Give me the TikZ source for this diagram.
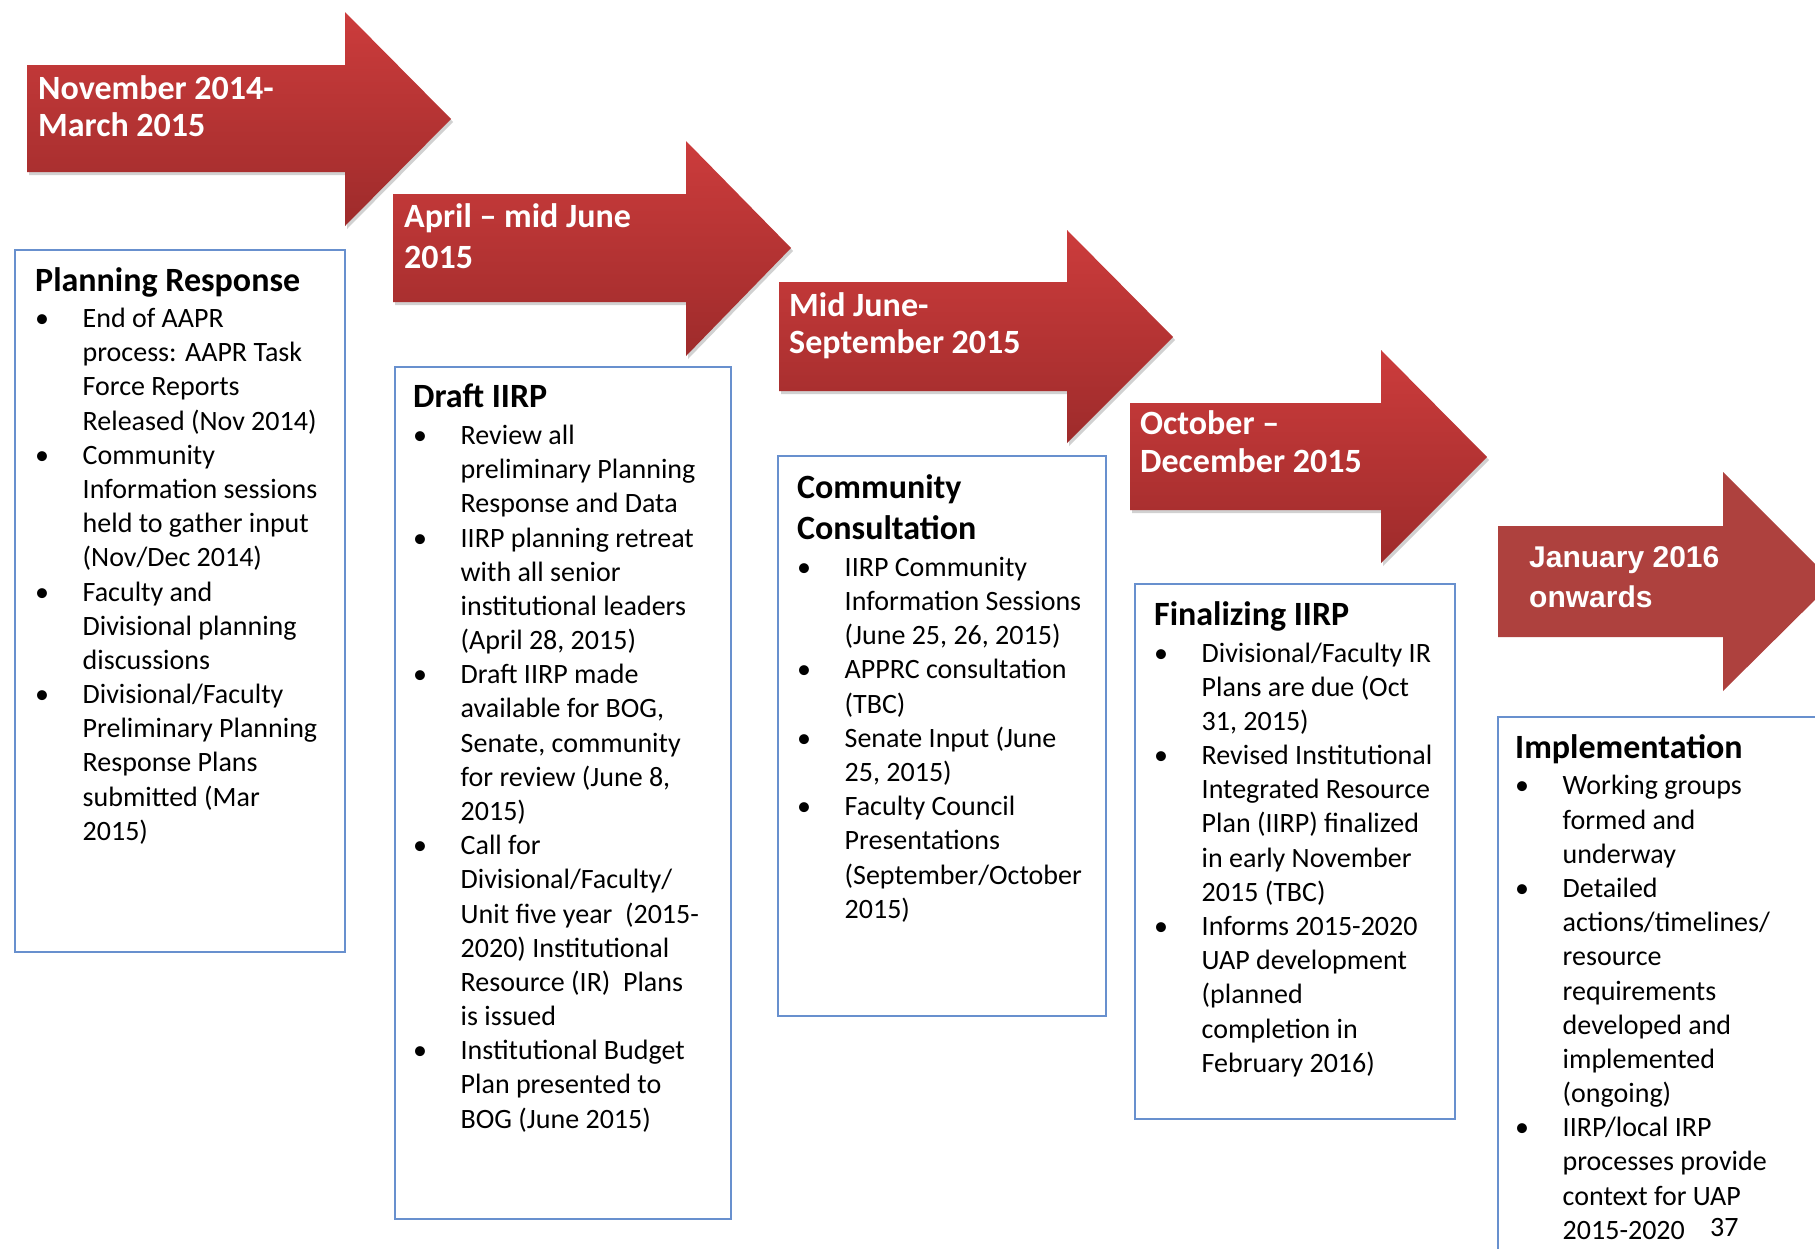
\documentclass[tikz,border=0pt]{standalone}
\usepackage{fontspec}
\setmainfont{Carlito}
\newfontfamily\arialfont{Liberation Sans}
\definecolor{redtop}{RGB}{204,60,60}
\definecolor{redbot}{RGB}{158,43,43}
\definecolor{redflat}{RGB}{174,65,62}
\definecolor{boxblue}{RGB}{104,144,206}
\newcommand\bl{\makebox[47.5pt][l]{•}}
\newcommand\ind{\hspace*{47.5pt}}
\begin{document}
\begin{tikzpicture}[x=1pt,y=-1pt,
  arrowtxt/.style={anchor=base west, inner sep=0pt, align=left, text=white, font=\bfseries\fontsize{34}{37}\selectfont},
  boxhead/.style={anchor=base west, inner sep=0pt, align=left, font=\bfseries\fontsize{34}{41.5}\selectfont},
  boxlist/.style={anchor=base west, inner sep=0pt, align=left, font=\fontsize{28}{34.18}\selectfont},
  tbox/.style={draw=boxblue, line width=1.5pt, anchor=north west, inner sep=0pt},
  redshade/.style={top color=redtop, bottom color=redbot, draw=none},
  shadowst/.style={fill=black, opacity=0.18, draw=none}]
\clip (0,0) rectangle (1815,1248);
\fill[white] (0,0) rectangle (1815,1248);

% arrows with shadow (last-line baselines are used for text anchors)
\foreach \L/\T/\B/\H/\HT/\HB/\TX/\TY in {27/65/172/345/12/226/451/119, 393/194/302/686/141/356/791/248, 779/282/391/1067/230/443/1173/337, 1130/403/510/1381/350/563/1487/457}{
  \fill[shadowst] (\L+2,\T+3) -- (\H+2,\T+3) -- (\H+2,\HT+3) -- (\TX+2,\TY+3) -- (\H+2,\HB+3) -- (\H+2,\B+3) -- (\L+2,\B+3) -- cycle;
  \shade[redshade] (\L,\T) -- (\H,\T) -- (\H,\HT) -- (\TX,\TY) -- (\H,\HB) -- (\H,\B) -- (\L,\B) -- cycle;
}
\fill[redflat] (1498,526) -- (1723,526) -- (1723,472) -- (1833,582) -- (1723,691) -- (1723,637) -- (1498,637) -- cycle;

% arrow labels
\node[arrowtxt] (a1) at (38,136) {November 2014-\\March 2015};
\node[arrowtxt, font=\bfseries\fontsize{34}{41}\selectfont] (a2) at (404,268) {April – mid June\\2015};
\node[arrowtxt] (a3) at (789,353) {Mid June-\\September 2015};
\node[arrowtxt, font=\bfseries\fontsize{34}{38}\selectfont] (a4) at (1140,472) {October –\\December 2015};
\node[arrowtxt, font=\arialfont\bfseries\fontsize{30}{40}\selectfont] (a5) at (1529,607) {January 2016\\onwards};

% boxes
\node[tbox, minimum width=330pt, minimum height=702pt] (b1) at (14,249) {};
\node[tbox, minimum width=336pt, minimum height=852pt] (b2) at (394,366) {};
\node[tbox, minimum width=328pt, minimum height=560pt] (b3) at (777,455) {};
\node[tbox, minimum width=320pt, minimum height=535pt] (b4) at (1134,583) {};
\node[tbox, minimum width=340pt, minimum height=560pt] (b5) at (1497,716) {};

% box 1
\node[boxhead] (h1) at (35,291) {Planning Response};
\node[boxlist] (l1) at (35,840.3) {\bl End of AAPR\\\ind process: AAPR Task\\\ind Force Reports\\\ind Released (Nov 2014)\\
\bl Community\\\ind Information sessions\\\ind held to gather input\\\ind (Nov/Dec 2014)\\
\bl Faculty and\\\ind Divisional planning\\\ind discussions\\
\bl Divisional/Faculty\\\ind Preliminary Planning\\\ind Response Plans\\\ind submitted (Mar\\\ind 2015)};

% box 2
\node[boxhead] (h2) at (413,407) {Draft IIRP};
\node[boxlist] (l2) at (413,1128.1) {\bl Review all\\\ind preliminary Planning\\\ind Response and Data\\
\bl IIRP planning retreat\\\ind with all senior\\\ind institutional leaders\\\ind (April 28, 2015)\\
\bl Draft IIRP made\\\ind available for BOG,\\\ind Senate, community\\\ind for review (June 8,\\\ind 2015)\\
\bl Call for\\\ind Divisional/Faculty/\\\ind Unit five year~~(2015-\\\ind 2020) Institutional\\\ind Resource (IR)~~Plans\\\ind is issued\\
\bl Institutional Budget\\\ind Plan presented to\\\ind BOG (June 2015)};

% box 3
\node[boxhead] (h3) at (797,539.5) {Community\\Consultation};
\node[boxlist] (l3) at (797,918.2) {\bl IIRP Community\\\ind Information Sessions\\\ind (June 25, 26, 2015)\\
\bl APPRC consultation\\\ind (TBC)\\
\bl Senate Input (June\\\ind 25, 2015)\\
\bl Faculty Council\\\ind Presentations\\\ind (September/October\\\ind 2015)};

% box 4
\node[boxhead] (h4) at (1154,625) {Finalizing IIRP};
\node[boxlist] (l4) at (1154,1072.2) {\bl Divisional/Faculty IR\\\ind Plans are due (Oct\\\ind 31, 2015)\\
\bl Revised Institutional\\\ind Integrated Resource\\\ind Plan (IIRP) finalized\\\ind in early November\\\ind 2015 (TBC)\\
\bl Informs 2015-2020\\\ind UAP development\\\ind (planned\\\ind completion in\\\ind February 2016)};

% box 5
\node[boxhead] (h5) at (1515,758) {Implementation};
\node[boxlist] (l5) at (1515,1239.3) {\bl Working groups\\\ind formed and\\\ind underway\\
\bl Detailed\\\ind actions/timelines/\\\ind resource\\\ind requirements\\\ind developed and\\\ind implemented\\\ind (ongoing)\\
\bl IIRP/local IRP\\\ind processes provide\\\ind context for UAP\\\ind 2015-2020};
\node[anchor=base west, inner sep=0pt, font=\fontsize{28}{34}\selectfont] (pg) at (1710,1236) {37};
\end{tikzpicture}
\end{document}
